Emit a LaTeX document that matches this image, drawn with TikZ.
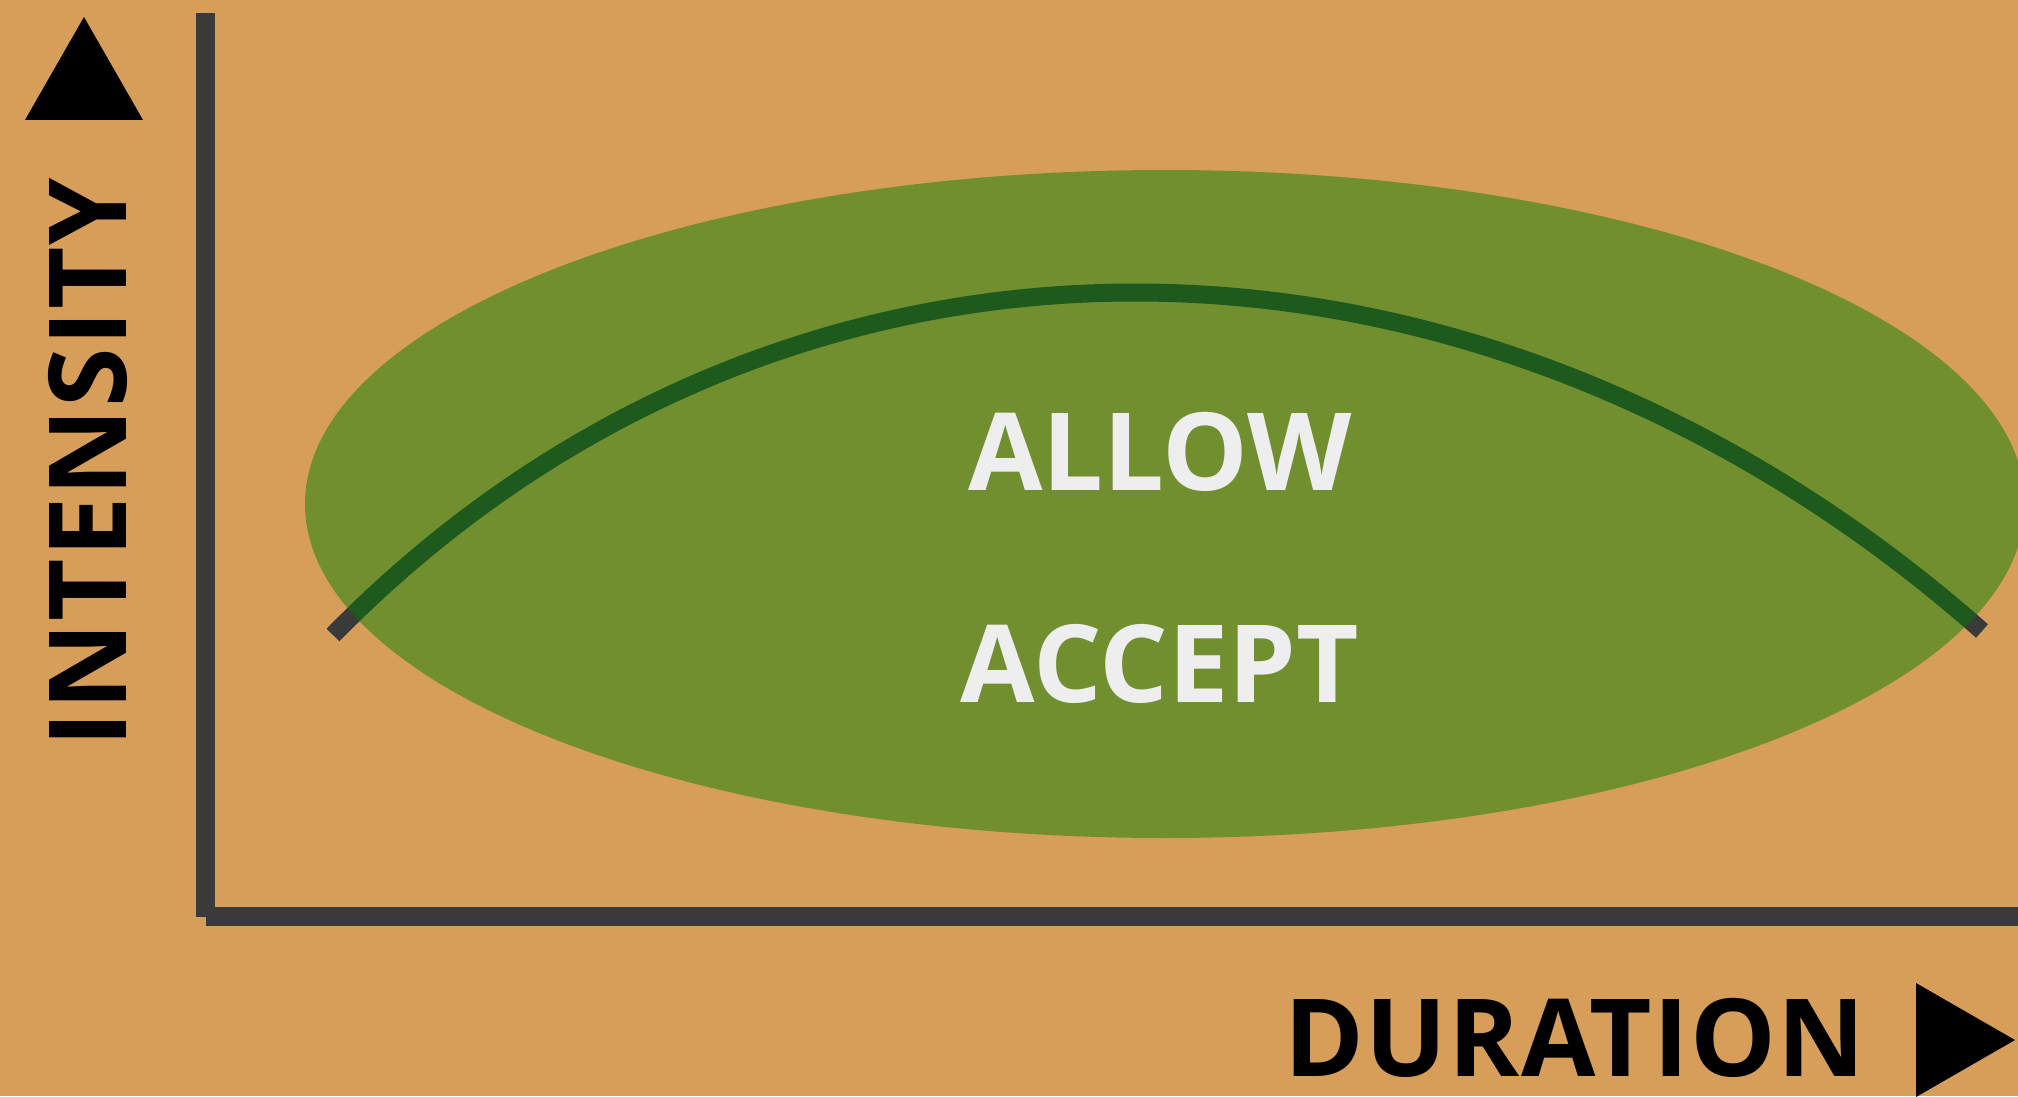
\documentclass[tikz,border=0pt]{standalone}
\usepackage{fontspec}
\setmainfont{Open Sans}
\newfontfamily\axisfont{Open Sans}[LetterSpace=1.2]
\definecolor{bgorange}{HTML}{D79E5A}
\definecolor{axisgray}{HTML}{3A3A3A}
\definecolor{zonegreen}{RGB}{0,126,0}
\definecolor{labelwhite}{HTML}{EEEEEE}
\tikzset{
  axis/.style = {axisgray, line width=0.195cm},
  zone/.style = {fill=zonegreen, fill opacity=0.465},
  zonetext/.style = {text=labelwhite, inner sep=0pt, font=\fontsize{30.7}{36}\selectfont\bfseries},
  axistext/.style = {text=black, inner sep=0pt, font=\axisfont\fontsize{30.7}{36}\selectfont\bfseries},
}
\begin{document}
\begin{tikzpicture}
  \fill[bgorange] (0,0) rectangle (20.18,10.96);
  \useasboundingbox (0,0) rectangle (20.18,10.96);
  % axes
  \draw[axis] (2.055,10.83) coordinate (ytop) -- (2.055,1.795) coordinate (origin);
  \draw[axis] (origin) -- (20.4,1.795) coordinate (xend);
  % arrow heads
  \fill (0.25,9.76) -- (1.43,9.76) -- (0.84,10.79) coordinate (uptip) -- cycle;
  \fill (19.16,1.13) -- (19.16,-0.01) -- (20.15,0.56) coordinate (righttip) -- cycle;
  % curve, then the zone over it
  \draw[axisgray, line width=0.18cm] (3.33,4.61) coordinate (cstart)
    .. controls (7.80,9.17) and (14.70,9.17) .. (19.82,4.65) coordinate (cend);
  \fill[zone] (11.65,5.92) ellipse [x radius=8.6, y radius=3.34];
  \node[zonetext] (allow) at (11.60,6.44) {ALLOW};
  \node[zonetext] (accept) at (11.60,4.32) {ACCEPT};
  \node[axistext, rotate=90] (intensity) at (0.88,6.33) {INTENSITY};
  \node[axistext] (duration) at (15.75,0.58) {DURATION};
\end{tikzpicture}
\end{document}
